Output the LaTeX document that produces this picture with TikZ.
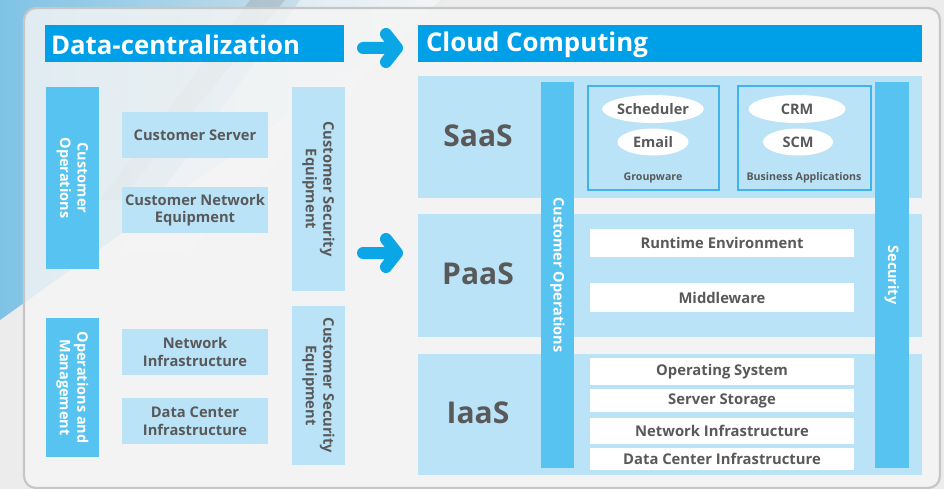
\documentclass[tikz,border=0pt]{standalone}
\usepackage{fontspec}
\setmainfont{Open Sans}
\usetikzlibrary{shapes.geometric}
\definecolor{hdrblue}{HTML}{00A0E9}
\definecolor{midblue}{HTML}{57C3F0}
\definecolor{lightblue}{HTML}{BAE3F8}
\definecolor{txtgray}{HTML}{595959}
\definecolor{bordblue}{HTML}{3DB5EC}
\definecolor{arrowblue}{HTML}{0AA6E6}
\definecolor{bgc}{HTML}{ECECEC}
\definecolor{cornerblue}{HTML}{7FC3E6}
\definecolor{panelfill}{HTML}{F5F5F5}
\definecolor{panelline}{HTML}{C6C6C6}
% style, name, x1, y1, x2, y2, text
\newcommand\blk[7]{\node[#1, minimum width={#5-#3}, minimum height={#6-#4}] (#2) at ({(#3+#5)/2},{(#4+#6)/2}) {#7};}
% rotated box: width/height swapped
\newcommand\vblk[7]{\node[#1, rotate=-90, minimum width={#6-#4}, minimum height={#5-#3}] (#2) at ({(#3+#5)/2},{(#4+#6)/2}) {#7};}
\begin{document}
\begin{tikzpicture}[x=1pt,y=-1pt,
  every node/.style={inner sep=0pt, outer sep=0pt},
  hdrbox/.style={fill=hdrblue},
  hdrtxt/.style={text=white, font=\bfseries\fontsize{25.8}{28}\selectfont, anchor=west},
  midbar/.style={fill=midblue, text=white, font=\bfseries\fontsize{14.5}{17.5}\selectfont, align=center},
  lbox/.style={fill=lightblue, text=txtgray, font=\bfseries\fontsize{14.7}{17.5}\selectfont, align=center},
  band/.style={fill=lightblue},
  wbox/.style={fill=white, text=txtgray, font=\bfseries\fontsize{14.8}{16}\selectfont},
  grpbox/.style={draw=bordblue, line width=1.2pt, fill=lightblue},
  oval/.style={ellipse, fill=white, text=txtgray, font=\bfseries\fontsize{14.5}{16}\selectfont},
  bigtxt/.style={text=txtgray, font=\bfseries\fontsize{30}{34}\selectfont},
  smalltxt/.style={text=txtgray, font=\bfseries\fontsize{10.6}{12}\selectfont},
  fatarrow/.style={draw=arrowblue, line width=12pt, line cap=round, line join=round}
]
\useasboundingbox (0,0) rectangle (944,489);
% background
\fill[bgc] (0,0) rectangle (944,489);
\shade[shading angle=135, left color=cornerblue, right color=bgc] (0,0) -- (450,0) -- (0,320) -- cycle;
\fill[white, opacity=0.45] (300,0) -- (440,0) -- (190,250) -- (120,250) -- cycle;
\fill[gray, opacity=0.25] (250,0) -- (285,0) -- (120,200) -- (100,200) -- cycle;
% panel
\draw[panelline, line width=2.2pt, fill=panelfill, fill opacity=0.82, rounded corners=12pt] (24,8) rectangle (940,488);

% headers
\blk{hdrbox}{dc}{45}{25}{344}{62}{}
\node[hdrtxt] (dctxt) at ([xshift=6pt,yshift=-1pt]dc.west) {Data-centralization};
\blk{hdrbox}{cc}{418}{25}{922}{62}{}
\node[hdrtxt] (cctxt) at ([xshift=8pt,yshift=-1pt]cc.west) {Cloud Computing};

% arrows
\coordinate (a1s) at (363,48);
\coordinate (a1t) at (397,48);
\coordinate (a1u) at (386,34);
\coordinate (a1d) at (386,62);
\draw[fatarrow] (a1s) -- (a1t) (a1u) -- (a1t) -- (a1d);
\coordinate (a2s) at (363,253);
\coordinate (a2t) at (397,253);
\coordinate (a2u) at (386,239);
\coordinate (a2d) at (386,267);
\draw[fatarrow] (a2s) -- (a2t) (a2u) -- (a2t) -- (a2d);

% left column
\vblk{midbar}{co}{46}{87}{99}{269}{Customer\\Operations}
\blk{lbox}{cs}{122}{112}{268}{158}{Customer Server}
\blk{lbox}{cne}{122}{187}{268}{233}{Customer Network\\Equipment}
\vblk{lbox}{cse1}{292}{87}{345}{291}{Customer Security\\Equipment}
\vblk{midbar}{om}{46}{318}{99}{457}{Operations and\\Management}
\blk{lbox}{ni}{122}{329}{268}{375}{Network\\Infrastructure}
\blk{lbox}{dci}{122}{398}{268}{444}{Data Center\\Infrastructure}
\vblk{lbox}{cse2}{292}{306}{345}{465}{Customer Security\\Equipment}

% right bands
\blk{band}{saas}{418}{76}{922}{198}{}
\blk{band}{paas}{418}{214}{922}{337}{}
\blk{band}{iaas}{418}{354}{922}{475}{}
\node[bigtxt] (saast) at (478,136) {SaaS};
\node[bigtxt] (paast) at (478,274) {PaaS};
\node[bigtxt] (iaast) at (478,413) {IaaS};

% vertical bars
\vblk{midbar}{cobar}{541}{82}{574}{468}{Customer Operations}
\vblk{midbar}{secbar}{875}{82}{909}{468}{Security}

% SaaS content
\blk{grpbox}{gw}{588}{86}{719}{190}{}
\blk{grpbox}{ba}{738}{86}{871}{190}{}
\node[oval, minimum width=98pt, minimum height=28pt] (sched) at (653,109) {Scheduler};
\node[oval, minimum width=71pt, minimum height=27pt] (email) at (653,142) {Email};
\node[oval, minimum width=97pt, minimum height=28pt] (crm) at (797,109) {CRM};
\node[oval, minimum width=70pt, minimum height=27pt] (scm) at (798,142) {SCM};
\node[smalltxt] (gwt) at (653,178) {Groupware};
\node[smalltxt] (bat) at (804,178) {Business Applications};

% PaaS content
\blk{wbox}{rte}{590}{229}{854}{257}{Runtime Environment}
\blk{wbox}{mw}{590}{283}{854}{312}{Middleware}

% IaaS content
\blk{wbox}{os}{590}{358}{854}{385}{Operating System}
\blk{wbox}{ss}{590}{389}{854}{412}{Server Storage}
\blk{wbox}{nir}{590}{418}{854}{444}{Network Infrastructure}
\blk{wbox}{dcir}{590}{448}{854}{470}{Data Center Infrastructure}
\end{tikzpicture}
\end{document}
